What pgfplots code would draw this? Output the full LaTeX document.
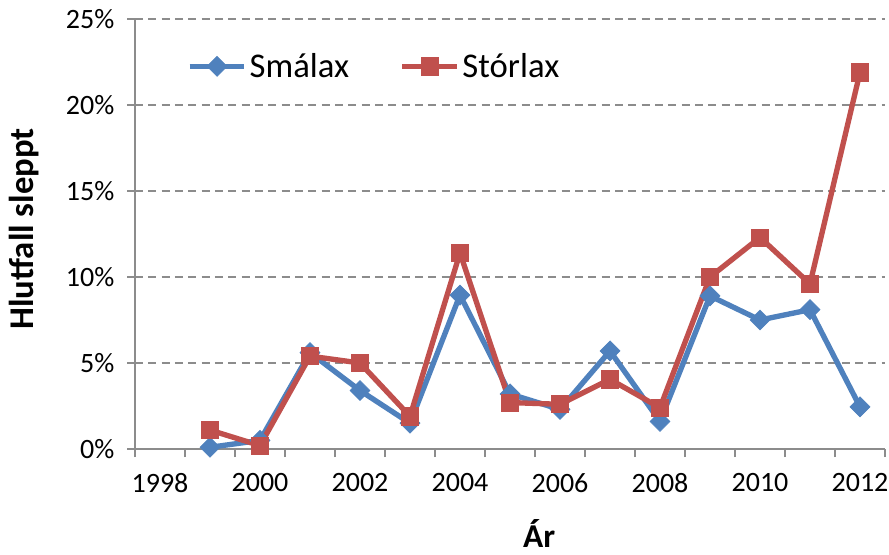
\documentclass[border=0pt]{standalone}
\usepackage{fontspec}
\setmainfont{Carlito}
\usepackage{pgfplots}
\pgfplotsset{compat=1.18}

\definecolor{smablue}{HTML}{4F81BD}
\definecolor{storred}{HTML}{C0504D}
\definecolor{gridgray}{HTML}{8C8C8C}

\begin{document}
\begin{tikzpicture}
\path[use as bounding box] (-101.25pt,-78.75pt) rectangle (565.5pt,336.75pt);
\begin{axis}[
    at={(0,0)}, anchor=south west,
    scale only axis,
    width=562.5pt, height=322.5pt,
    xmin=1997.5, xmax=2012.5,
    ymin=0, ymax=25,
    axis x line*=bottom, axis y line*=left,
    axis line style={gridgray, line width=1pt, -},
    xtick={1998,2000,...,2012},
    major x tick style={draw=none},
    minor xtick={1997.5,1998.5,...,2012.5},
    minor x tick style={gridgray, line width=1pt},
    minor tick length=6pt,
    ytick={0,5,...,25},
    major y tick style={gridgray, line width=1pt},
    major tick length=6pt,
    tick align=outside,
    ymajorgrids,
    major grid style={gridgray, line width=1pt, dash pattern=on 6pt off 4pt},
    xticklabel style={/pgf/number format/1000 sep={}, yshift=-9pt,
        font=\fontsize{21}{25}\selectfont},
    yticklabel style={xshift=-6pt, font=\fontsize{21}{25}\selectfont},
    yticklabel={\pgfmathprintnumber{\tick}\%},
    /pgf/number format/assume math mode=true,
    xlabel={Ár}, ylabel={Hlutfall sleppt},
    every axis x label/.style={at={(axis description cs:0.539,-0.228)}, anchor=base,
        inner sep=0pt, font=\fontsize{25}{29}\selectfont\bfseries},
    every axis y label/.style={at={(axis description cs:-0.135,0.512)}, anchor=base, rotate=90,
        font=\fontsize{26}{30}\selectfont\bfseries},
    legend columns=2,
    legend style={at={(0.069,0.89)}, anchor=west, draw=none, fill=none,
        font=\fontsize{26}{30}\selectfont, inner sep=0pt,
        /tikz/every even column/.append style={column sep=36pt}},
    legend image code/.code={
        \draw[mark repeat=2, mark phase=2] plot coordinates {(0pt,0pt) (20.5pt,0pt) (41pt,0pt)};
    },
]
\addplot[smablue, line width=4pt, mark=square*, mark size=5.3pt,
    mark options={solid, rotate=45, line width=0.5pt, fill=smablue}] coordinates {
    (1999,0.1) (2000,0.5) (2001,5.6) (2002,3.4) (2003,1.5) (2004,8.95)
    (2005,3.2) (2006,2.3) (2007,5.7) (2008,1.6) (2009,8.9) (2010,7.5)
    (2011,8.1) (2012,2.45)
};
\addlegendentry{Smálax}
\addplot[storred, line width=4pt, mark=square*, mark size=6.4pt,
    mark options={solid, line width=0.5pt, fill=storred}] coordinates {
    (1999,1.1) (2000,0.2) (2001,5.4) (2002,5.0) (2003,1.9) (2004,11.4)
    (2005,2.7) (2006,2.6) (2007,4.05) (2008,2.4) (2009,10.0) (2010,12.3)
    (2011,9.6) (2012,21.9)
};
\addlegendentry{Stórlax}
\end{axis}
\end{tikzpicture}
\end{document}
